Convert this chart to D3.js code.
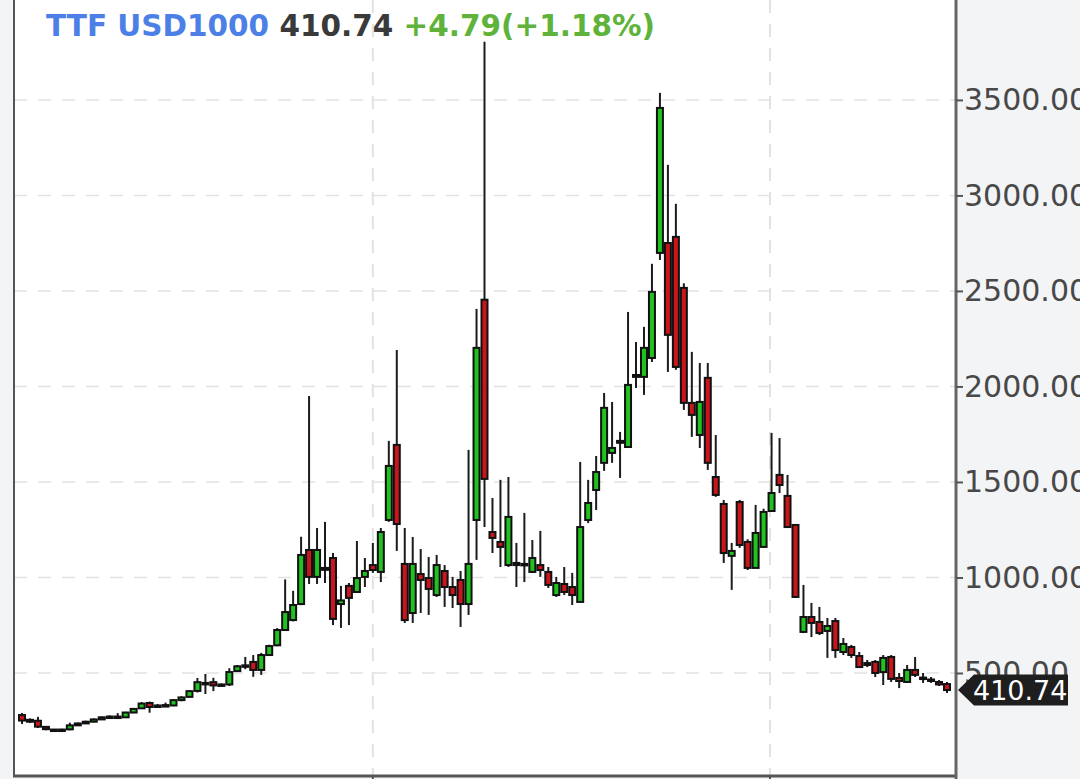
<!DOCTYPE html>
<html><head><meta charset="utf-8">
<script src="https://cdn.jsdelivr.net/npm/d3@7"></script>
<style>
html,body{margin:0;padding:0;background:#f3f4f6;}
svg{display:block;}
</style></head><body>
<svg id="chart" width="1080" height="779"></svg>
<script>
// ---- data (weekly candles, index 0..116) ----
const opens  = [280,245,250,218,204,201,205,226,236,245,257,268,272,268,293,315,343,322,330,330,358,375,406,448,452,435,440,510,535,558,516,594,645,725,777,861,1144,1003,1050,1102,861,956,924,1003,1065,1029,1301,1694,1071,814,1018,997,908,1034,950,987,861,1301,2454,1238,1186,1065,1076,1065,1029,1065,1029,908,966,950,872,1301,1458,1600,1652,1705,1683,2050,2050,2149,2699,2751,2783,2516,1914,1746,2045,1526,1385,1113,1395,1186,1050,1160,1348,1537,1427,1275,715,793,767,720,772,610,636,589,542,558,505,584,474,453,516,476,466,453,442];
const highs  = [290,262,270,222,206,208,240,240,250,262,272,278,290,297,317,348,350,338,345,362,378,410,474,495,475,445,525,542,584,594,605,648,735,990,930,1213,1950,1259,1291,1128,956,971,1191,1102,1181,1259,1715,2191,1259,1212,1149,1107,1118,1065,1003,1034,1668,2406,3804,1416,1511,1526,1181,1338,1196,1244,1055,1003,1055,1024,1605,1511,1636,1966,1919,1762,2390,2233,2312,2642,3537,3160,2956,2540,2181,2123,2123,1746,1406,1181,1406,1200,1380,1360,1757,1730,1537,1280,961,867,846,788,788,683,647,610,568,568,594,594,500,542,584,500,479,463,453];
const lows   = [233,238,212,200,198,199,200,224,233,242,254,264,262,265,290,312,292,318,325,326,352,372,398,390,405,430,432,508,520,480,490,590,640,720,770,855,966,966,971,751,736,751,919,950,1024,976,1291,1139,762,762,814,804,898,846,840,741,804,1092,1264,1128,1055,1055,950,976,1024,1003,945,898,908,856,872,1285,1353,1558,1600,1521,1678,1992,1956,2128,2662,2076,2087,1877,1736,1678,1563,1422,1076,935,1155,1039,1050,1155,1343,1442,1259,893,709,688,699,579,579,594,579,526,531,479,437,453,421,448,479,448,448,432,395];
const closes = [251,255,219,206,201,204,226,236,245,257,268,272,270,293,312,340,322,330,332,358,372,405,452,442,435,440,505,535,540,516,594,641,725,819,856,1118,1003,1144,1040,783,880,893,997,1034,1039,1238,1584,1280,777,1071,987,940,1065,950,908,861,1071,2202,1516,1207,1160,1317,1065,1071,1102,1039,961,971,924,908,1264,1390,1552,1888,1678,1715,2008,2060,2202,2495,3458,2270,2102,1914,1851,1919,1600,1432,1128,1139,1170,1050,1233,1343,1442,1484,1264,898,793,762,709,746,620,652,594,531,552,500,579,469,458,516,490,472,460,440,410.74];

const yTickValues = [500,1000,1500,2000,2500,3000,3500];
const xGridIndex  = [44, 93.8];           // period boundaries (candle index)
const symbolText  = "TTF USD1000";
const lastText    = "410.74";
const changeText  = "+4.79(+1.18%)";

// ---- layout ----
const plot = {left:14, right:956, top:0, bottom:775};
const svg = d3.select("#chart");

const candles = opens.map((o,i)=>({i, o, h:highs[i], l:lows[i], c:closes[i]}));

const x = d3.scaleLinear().domain([0, candles.length-1]).range([22, 947]);
const y = d3.scaleLinear().domain([-34, 4023]).range([plot.bottom, plot.top]);

// plot background
svg.append("rect").attr("x",plot.left).attr("y",plot.top)
  .attr("width",plot.right-plot.left).attr("height",plot.bottom-plot.top)
  .attr("fill","#ffffff");

// grid
const grid = svg.append("g");
grid.selectAll("line.h").data(yTickValues).join("line")
  .attr("x1",plot.left).attr("x2",plot.right)
  .attr("y1",d=>y(d)).attr("y2",d=>y(d))
  .attr("stroke","#e2e2e2").attr("stroke-width",1.5).attr("stroke-dasharray","13,11");
grid.selectAll("line.v").data(xGridIndex).join("line")
  .attr("x1",d=>x(d)).attr("x2",d=>x(d))
  .attr("y1",plot.top).attr("y2",plot.bottom)
  .attr("stroke","#e2e2e2").attr("stroke-width",2).attr("stroke-dasharray","13,11");

// candles
const clip = svg.append("clipPath").attr("id","pc").append("rect")
  .attr("x",plot.left).attr("y",plot.top).attr("width",plot.right-plot.left).attr("height",plot.bottom-plot.top);
const cg = svg.append("g").attr("clip-path","url(#pc)");
const bw = 6;
const g = cg.selectAll("g.c").data(candles).join("g");
g.append("line")
  .attr("x1",d=>x(d.i)).attr("x2",d=>x(d.i))
  .attr("y1",d=>y(d.h)).attr("y2",d=>y(d.l))
  .attr("stroke","#1c1c1c").attr("stroke-width",2);
g.append("rect")
  .attr("x",d=>x(d.i)-bw/2)
  .attr("y",d=>y(Math.max(d.o,d.c)))
  .attr("width",bw)
  .attr("height",d=>Math.max(1.5, Math.abs(y(d.o)-y(d.c))))
  .attr("fill",d=>d.c>=d.o ? "#1fc21f" : "#c8161c")
  .attr("stroke","#111").attr("stroke-width",2);

// axes lines
svg.append("line").attr("x1",plot.left).attr("x2",plot.left).attr("y1",0).attr("y2",plot.bottom+2)
  .attr("stroke","#555").attr("stroke-width",2);
svg.append("line").attr("x1",plot.left-1).attr("x2",plot.right+1).attr("y1",plot.bottom+1).attr("y2",plot.bottom+1)
  .attr("stroke","#555").attr("stroke-width",3);
svg.append("line").attr("x1",plot.right).attr("x2",plot.right).attr("y1",0).attr("y2",779)
  .attr("stroke","#666").attr("stroke-width",3);

// bottom ticks
svg.selectAll("line.bt").data(xGridIndex).join("line")
  .attr("x1",d=>x(d)).attr("x2",d=>x(d)).attr("y1",plot.bottom+1).attr("y2",779)
  .attr("stroke","#555").attr("stroke-width",2);

// right axis
const ax = svg.append("g").attr("transform",`translate(${plot.right},0)`)
  .call(d3.axisRight(y).tickValues(yTickValues).tickFormat(d3.format(".2f")).tickSize(7).tickPadding(1));
ax.select(".domain").remove();
ax.selectAll(".tick line").attr("stroke","#555").attr("stroke-width",2);
ax.selectAll(".tick text").attr("fill","#484848").style("font-family","DejaVu Sans").style("font-size","30px");

// last price label
const ly = y(closes[closes.length-1]);
const lbl = svg.append("g");
lbl.append("path")
  .attr("d",`M958,${ly} L974,${ly-15.5} L1068,${ly-15.5} L1068,${ly+15.5} L974,${ly+15.5} Z`)
  .attr("fill","#1e1e1e");
lbl.append("text").attr("x",973).attr("y",ly).attr("dy","0.36em")
  .attr("fill","#ffffff").style("font-family","DejaVu Sans").style("font-size","27px")
  .text(lastText);

// title
const t = svg.append("text").attr("x",46).attr("y",36)
  .style("font-family","DejaVu Sans").style("font-weight","bold").style("font-size","29.5px");
t.append("tspan").attr("fill","#4c80e6").text(symbolText + " ");
t.append("tspan").attr("fill","#3a3a3a").text(lastText + " ");
t.append("tspan").attr("fill","#5fb33a").text(changeText);
</script>
</body></html>
